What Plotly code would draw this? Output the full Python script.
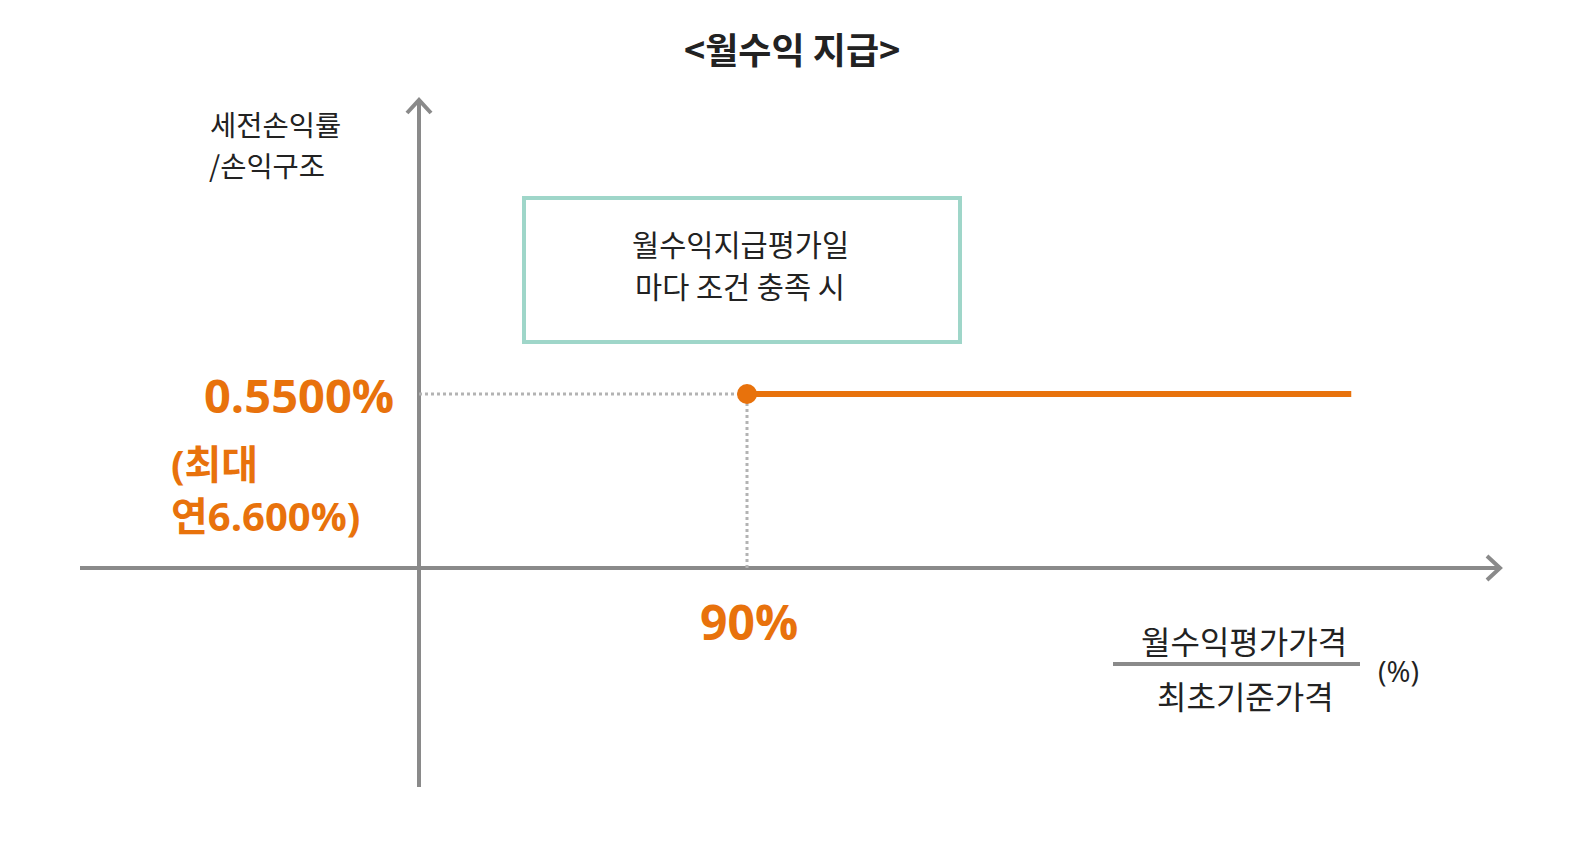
import plotly.graph_objects as go

# ---------------- data ----------------
payout_x = [90, 255.8]        # 월수익평가가격/최초기준가격 (%) : barrier -> display end
payout_y = [0.55, 0.55]       # 세전손익률 (%)
barrier_label = "90%"
coupon_label = "0.5500%"
coupon_note = ["(최대", "연6.600%)"]
title_text = "<월수익 지급>"
ylabel_lines = ["세전손익률", "/손익구조"]
box_lines = ["월수익지급평가일", "마다 조건 충족 시"]
frac_num = "월수익평가가격"
frac_den = "최초기준가격"
frac_unit = "(%)"

# ---------------- styling ----------------
W, H = 1586, 852
ORANGE = "#E8720C"
AXIS = "#8a8a8a"
DOT = "#b3b3b3"
TEAL = "#9fd6c9"
TXT = "#222222"
FONT = "Open Sans, Noto Sans CJK KR, sans-serif"
KFONT = "Noto Sans CJK KR, sans-serif"

# pixel geometry of origin and scale
X0_PX, Y0_PX = 411, 560
PX_PER_X = (739 - X0_PX) / 90.0
PX_PER_Y = (Y0_PX - 386) / 0.55
xr = [-X0_PX / PX_PER_X, (W - X0_PX) / PX_PER_X]
yr = [(Y0_PX - H) / PX_PER_Y, Y0_PX / PX_PER_Y]


def px2x(px):
    return (px - X0_PX) / PX_PER_X


def py2y(py):
    return (Y0_PX - py) / PX_PER_Y


def pfx(px):
    return px / W


def pfy(py):
    return 1 - py / H


fig = go.Figure()

# dotted guides from the barrier point to the axes
fig.add_trace(go.Scatter(x=[0, payout_x[0]], y=[payout_y[0], payout_y[0]], mode="lines",
                         line=dict(color=DOT, width=3, dash="dot"), hoverinfo="skip", showlegend=False))
fig.add_trace(go.Scatter(x=[payout_x[0], payout_x[0]], y=[0, payout_y[0]], mode="lines",
                         line=dict(color=DOT, width=3, dash="dot"), hoverinfo="skip", showlegend=False))

# payout line
fig.add_trace(go.Scatter(x=payout_x, y=payout_y, mode="lines",
                         line=dict(color=ORANGE, width=6), hoverinfo="skip", showlegend=False))
fig.add_trace(go.Scatter(x=[payout_x[0]], y=[payout_y[0]], mode="markers",
                         marker=dict(color=ORANGE, size=20), hoverinfo="skip", showlegend=False))

shapes = []
# axes
shapes.append(dict(type="line", xref="x", yref="y", x0=px2x(72), x1=px2x(1492), y0=0, y1=0,
                   line=dict(color=AXIS, width=4), layer="below"))
shapes.append(dict(type="line", xref="x", yref="y", x0=0, x1=0, y0=py2y(779), y1=py2y(91),
                   line=dict(color=AXIS, width=4), layer="below"))
# arrow heads (open chevrons)
shapes.append(dict(type="path", xref="x", yref="y", xsizemode="pixel", ysizemode="pixel",
                   xanchor=px2x(1492), yanchor=0, path="M -13,12 L 0,0 L -13,-12",
                   line=dict(color=AXIS, width=4)))
shapes.append(dict(type="path", xref="x", yref="y", xsizemode="pixel", ysizemode="pixel",
                   xanchor=0, yanchor=py2y(92), path="M -12,-13 L 0,0 L 12,-13",
                   line=dict(color=AXIS, width=4)))
# condition box
shapes.append(dict(type="rect", xref="paper", yref="paper", x0=pfx(516), x1=pfx(952),
                   y0=pfy(334), y1=pfy(190), line=dict(color=TEAL, width=4), fillcolor="white"))
# fraction bar
shapes.append(dict(type="line", xref="paper", yref="paper", x0=pfx(1105), x1=pfx(1352),
                   y0=pfy(656), y1=pfy(656), line=dict(color=AXIS, width=4)))


def label(text, px, py, size, color=TXT, family=KFONT, xanchor="center", bold=False, align="center"):
    t = "<b>" + text + "</b>" if bold else text
    return dict(text=t, xref="paper", yref="paper", x=pfx(px), y=pfy(py), showarrow=False,
                font=dict(family=family, size=size, color=color), xanchor=xanchor, yanchor="middle",
                align=align)


annotations = [
    label(title_text, 784, 40, 36, bold=True),
    label(ylabel_lines[0], 200, 116, 28.5, xanchor="left", align="left"),
    label(ylabel_lines[1], 199, 157, 28.5, xanchor="left", align="left"),
    label(box_lines[0], 732, 235, 29.5),
    label(box_lines[1], 732, 277, 29.5),
    dict(text="<b>" + coupon_label + "</b>", xref="x", yref="y", x=0, y=payout_y[0], xshift=-23, yshift=-1,
         showarrow=False, font=dict(family=FONT, size=47, color=ORANGE), xanchor="right", yanchor="middle"),
    label("<b>" + "<br>".join(coupon_note) + "</b>", 161, 481, 40, color=ORANGE, family=FONT,
          xanchor="left", align="left"),
    dict(text="<b>" + barrier_label + "</b>", xref="x", yref="y", x=payout_x[0], y=0, yshift=-53, xshift=2,
         showarrow=False, font=dict(family=FONT, size=48, color=ORANGE), xanchor="center", yanchor="middle"),
    label(frac_num, 1236, 632, 32),
    label(frac_den, 1237, 687, 32),
    label(frac_unit, 1390, 662, 29, family=FONT),
]

fig.update_layout(
    width=W, height=H,
    margin=dict(l=0, r=0, t=0, b=0),
    paper_bgcolor="white", plot_bgcolor="white",
    xaxis=dict(range=xr, visible=False, fixedrange=True),
    yaxis=dict(range=yr, visible=False, fixedrange=True),
    shapes=shapes, annotations=annotations, showlegend=False,
)

fig.write_html("out.html")
